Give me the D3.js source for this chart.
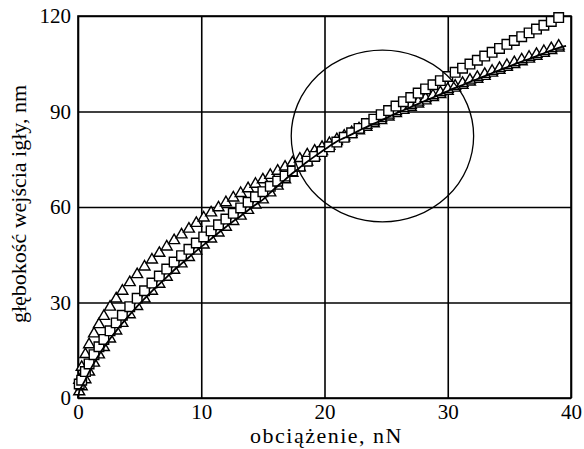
<!DOCTYPE html>
<meta charset="utf-8">
<style>
  body { margin: 0; background: #fff; }
  svg { font-family: "Liberation Serif", "Times New Roman", Times, serif; }
  .axis text { font-family: "Liberation Serif", "Times New Roman", Times, serif; font-size: 21px; fill: #000; }
  .axis path { display: none; }
  .grid line { stroke: #000; stroke-width: 1.6px; }
  .grid path { display: none; }
  .title { font-size: 22px; fill: #000; }
</style>
<body></body>
<script src="https://cdn.jsdelivr.net/npm/d3@7"></script>
<script>
  // load values (nN), shared by the three series
  var load = [0.1, 0.3, 0.6, 0.9, 1.3, 1.7, 2.1, 2.6, 3.1, 3.6, 4.2, 4.8, 5.4,
    6.0, 6.6, 7.2, 7.8, 8.4, 9.0, 9.6, 10.2, 10.8, 11.4, 12.0, 12.6, 13.2, 13.8,
    14.4, 15.0, 15.6, 16.2, 16.8, 17.4, 18.0, 18.6, 19.2, 19.8, 20.4, 21.0, 21.6,
    22.2, 22.8, 23.4, 24.0, 24.6, 25.2, 25.8, 26.4, 27.0, 27.6, 28.2, 28.8, 29.4,
    30.0, 30.6, 31.2, 31.8, 32.4, 33.0, 33.6, 34.2, 34.8, 35.4, 36.0, 36.6, 37.2,
    37.8, 38.4, 39.0];

  // squares
  var depthSquares = [4.4, 5.6, 8.3, 10.7, 13.6, 16.1, 18.4, 21.1, 23.6, 26.0, 28.7, 31.3, 33.7,
    36.1, 38.3, 40.5, 42.7, 44.7, 46.7, 48.7, 50.6, 52.5, 54.4, 56.2, 58.0, 59.7, 61.5,
    63.2, 64.8, 66.5, 68.1, 69.7, 71.3, 72.8, 74.4, 75.9, 77.4, 78.9, 80.4, 81.9,
    83.3, 84.7, 86.2, 87.6, 89.0, 90.3, 91.7, 93.1, 94.4, 95.8, 97.1, 98.4, 99.7,
    101.0, 102.3, 103.6, 104.9, 106.1, 107.4, 108.6, 109.8, 111.1, 112.3, 113.5, 114.7, 115.9,
    117.1, 118.3, 119.5];

  // triangles, upper band at small loads
  var depthTriA = [5.6, 9.7, 13.7, 16.8, 20.2, 23.1, 25.7, 28.6, 31.2, 33.6, 36.3, 38.8, 41.2,
    43.4, 45.5, 47.5, 49.5, 51.3, 53.1, 54.9, 56.6, 58.2, 59.8, 61.4, 62.9, 64.3, 65.8,
    67.2, 68.6, 70.0, 71.3, 72.6, 73.9, 75.1, 76.4, 77.6, 78.8, 80.0, 81.2, 82.3,
    83.4, 84.6, 85.7, 86.8, 87.8, 88.9, 90.0, 91.0, 92.0, 93.0, 94.1, 95.0, 96.0,
    97.0, 98.0, 98.9, 99.9, 100.8, 101.7, 102.7, 103.6, 104.5, 105.4, 106.3, 107.1, 108.0,
    108.9, 109.8, 110.6];

  // triangles, lower band at small loads (with the solid curve)
  var depthTriB = [2.0, 3.6, 5.8, 8.2, 11.0, 13.6, 15.9, 18.6, 21.1, 23.5, 26.2, 28.8, 31.2,
    33.6, 35.8, 38.0, 40.2, 42.2, 44.2, 46.2, 48.1, 50.0, 51.9, 53.7, 55.5, 57.2, 59.0,
    60.7, 62.3, 64.5, 66.6, 68.6, 70.6, 72.4, 74.2, 75.9, 77.5, 79.1, 80.6, 81.7,
    82.8, 84.0, 85.1, 86.2, 87.2, 88.3, 89.4, 90.4, 91.4, 92.4, 93.4, 94.4, 95.4,
    96.4, 97.4, 98.3, 99.3, 100.2, 101.1, 102.1, 103.0, 103.9, 104.8, 105.7, 106.5, 107.4,
    108.3, 109.2, 110.0];

  var xTicks = [0, 10, 20, 30, 40];
  var yTicks = [0, 30, 60, 90, 120];

  // highlighted region (ellipse), in data units
  var mark = { cx: 24.7, cy: 82.3, rx: 7.4, ry: 27 };

  var margin = { top: 16, right: 13, bottom: 51, left: 78 },
    W = 584, H = 449,
    width = W - margin.left - margin.right,
    height = H - margin.top - margin.bottom;

  var x = d3.scaleLinear().domain([0, 40]).range([0, width]);
  var y = d3.scaleLinear().domain([0, 120]).range([height, 0]);

  var svg = d3.select("body").append("svg")
    .attr("width", W)
    .attr("height", H);

  var g = svg.append("g")
    .attr("transform", "translate(" + margin.left + "," + margin.top + ")");

  // grid
  g.append("g")
    .attr("class", "grid")
    .attr("transform", "translate(0," + height + ")")
    .call(d3.axisBottom(x).tickValues(xTicks).tickSize(-height).tickFormat(""));
  g.append("g")
    .attr("class", "grid")
    .call(d3.axisLeft(y).tickValues(yTicks).tickSize(-width).tickFormat(""));

  g.append("rect")
    .attr("width", width)
    .attr("height", height)
    .attr("fill", "none")
    .attr("stroke", "#000")
    .attr("stroke-width", 1.6);

  // axes labels
  g.append("g")
    .attr("class", "axis")
    .attr("transform", "translate(0," + height + ")")
    .call(d3.axisBottom(x).tickValues(xTicks).tickSize(0).tickPadding(6));
  g.append("g")
    .attr("class", "axis")
    .call(d3.axisLeft(y).tickValues(yTicks).tickSize(0).tickPadding(7));

  function pts(ys) {
    return load.map(function(v, i) { return [v, ys[i]]; });
  }

  var tri = d3.symbol().type(d3.symbolTriangle).size(52);
  var sq = d3.symbol().type(d3.symbolSquare).size(92);

  [depthTriB, depthTriA].forEach(function(ys) {
    g.append("g").selectAll("path")
      .data(pts(ys))
      .enter().append("path")
      .attr("d", tri)
      .attr("transform", function(d) { return "translate(" + x(d[0]) + "," + y(d[1]) + ")"; })
      .attr("fill", "#fff")
      .attr("stroke", "#000")
      .attr("stroke-width", 1.4);
  });

  g.append("g").selectAll("path")
    .data(pts(depthSquares))
    .enter().append("path")
    .attr("d", sq)
    .attr("transform", function(d) { return "translate(" + x(d[0]) + "," + y(d[1]) + ")"; })
    .attr("fill", "#fff")
    .attr("stroke", "#000")
    .attr("stroke-width", 1.4);

  // solid curve along the lower triangles
  g.append("path")
    .datum([[0, 0]].concat(pts(depthTriB)).concat([[39.6, 110.6]]))
    .attr("fill", "none")
    .attr("stroke", "#000")
    .attr("stroke-width", 1.8)
    .attr("d", d3.line()
      .x(function(d) { return x(d[0]); })
      .y(function(d) { return y(d[1]); })
      .curve(d3.curveMonotoneX));

  g.append("ellipse")
    .attr("cx", x(mark.cx))
    .attr("cy", y(mark.cy))
    .attr("rx", x(mark.rx) - x(0))
    .attr("ry", y(0) - y(mark.ry))
    .attr("fill", "none")
    .attr("stroke", "#000")
    .attr("stroke-width", 1.3);

  svg.append("text")
    .attr("class", "title")
    .attr("x", margin.left + width / 2 + 2)
    .attr("y", 443)
    .attr("text-anchor", "middle")
    .style("letter-spacing", "1.5px")
    .text("obciążenie, nN");

  svg.append("text")
    .attr("class", "title")
    .attr("transform", "translate(26," + (margin.top + 188) + ") rotate(-90)")
    .attr("text-anchor", "middle")
    .text("głębokość wejścia igły, nm");
</script>
